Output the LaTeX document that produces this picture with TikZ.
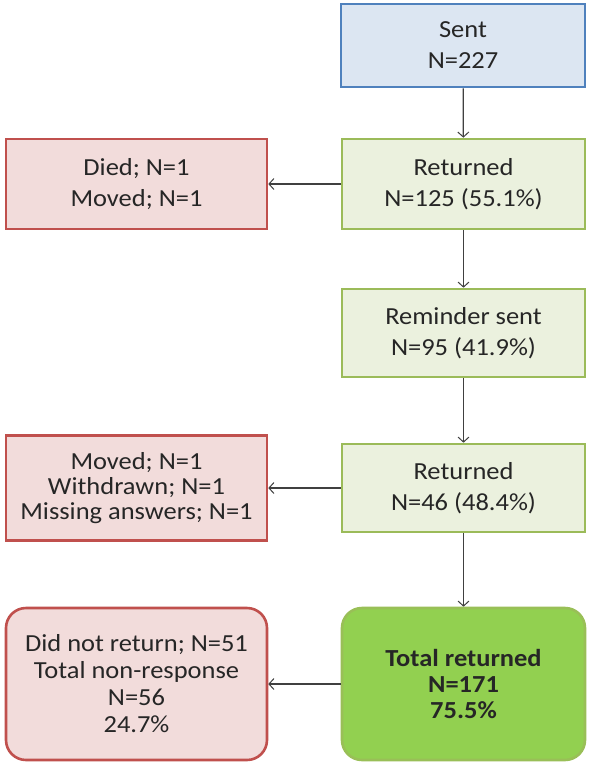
\documentclass[tikz,border=0pt]{standalone}
\usepackage{fontspec}
\setmainfont{Carlito}[FakeStretch=1.08]
\usetikzlibrary{arrows.meta}
\definecolor{bluefill}{HTML}{DCE6F2}
\definecolor{blueline}{HTML}{4F81BD}
\definecolor{greenfill}{HTML}{EBF1DE}
\definecolor{greenline}{HTML}{9BBB59}
\definecolor{redfill}{HTML}{F2DCDB}
\definecolor{redline}{HTML}{C0504D}
\definecolor{totalfill}{HTML}{92D050}
\definecolor{arrowgray}{HTML}{404040}
\begin{document}
\begin{tikzpicture}[x=1pt,y=-1pt,
  box/.style={draw, line width=2.6pt, align=center, inner sep=0pt,
    font=\fontsize{24.5}{31}\selectfont, text=black!85},
  bluebox/.style={box, fill=bluefill, draw=blueline},
  greenbox/.style={box, fill=greenfill, draw=greenline},
  redbox/.style={box, fill=redfill, draw=redline},
  totalbox/.style={box, fill=totalfill, draw=greenline!80!totalfill, rounded corners=20pt},
  conn/.style={draw=arrowgray, line width=1.2pt, -{Straight Barb[length=5pt,width=11pt,line width=1pt]}}]
\useasboundingbox (0,0) rectangle (589,764);
\fill[white] (0,0) rectangle (589,764);
\node[bluebox, minimum width=244pt, minimum height=83pt] (sent) at (463,45.5) {Sent\\N=227};
\node[greenbox, minimum width=243pt, minimum height=90pt] (ret1) at (463.5,184) {Returned\\N=125 (55.1\%)};
\node[redbox, minimum width=261pt, minimum height=90pt] (died) at (136.5,184) {Died; N=1\\Moved; N=1};
\node[greenbox, minimum width=243pt, minimum height=88pt] (rem) at (463.5,333) {Reminder sent\\N=95 (41.9\%)};
\node[greenbox, minimum width=243pt, minimum height=88pt] (ret2) at (463.5,488) {Returned\\N=46 (48.4\%)};
\node[redbox, minimum width=261pt, minimum height=105pt, font=\fontsize{24.5}{25}\selectfont] (lost) at (136.5,488) {Moved; N=1\\Withdrawn; N=1\\Missing answers; N=1};
\node[totalbox, minimum width=243pt, minimum height=152pt, font=\bfseries\fontsize{24.5}{26}\selectfont] (total) at (463.5,684) {Total returned\\N=171\\75.5\%};
\node[redbox, rounded corners=20pt, minimum width=261pt, minimum height=152pt, font=\fontsize{24.5}{27}\selectfont] (nonresp) at (136.5,684) {Did not return; N=51\\Total non-response\\N=56\\24.7\%};
\draw[conn] (sent) -- (ret1);
\draw[conn] (ret1) -- (rem);
\draw[conn] (rem) -- (ret2);
\draw[conn] (ret2) -- (total);
\draw[conn] (ret1) -- (died);
\draw[conn] (ret2) -- (lost);
\draw[conn] (total) -- (nonresp);
\end{tikzpicture}
\end{document}
